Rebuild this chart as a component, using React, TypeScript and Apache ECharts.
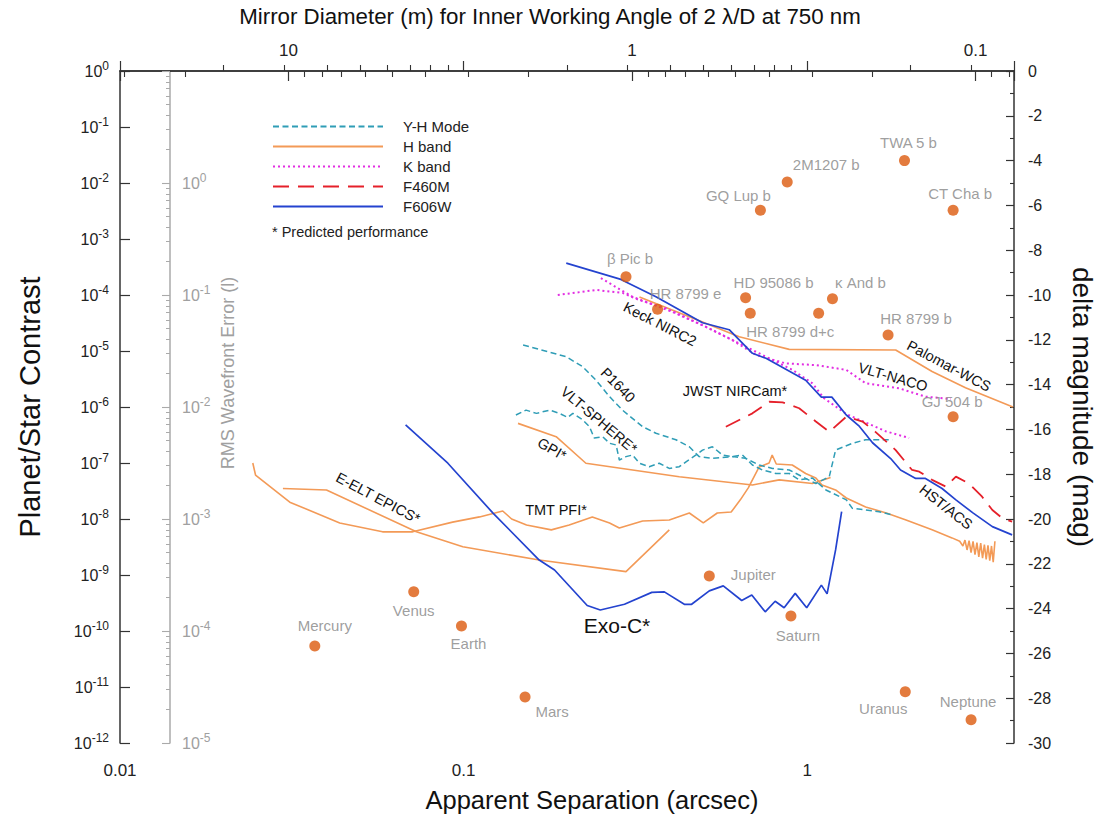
import React, { useEffect, useRef } from 'react';
import * as echarts from 'echarts';

// ---------- Data (arcsec, planet/star contrast) ----------
const HST_ACS = [[0.199,3.7e-4],[0.287,1.9e-4],[0.363,9.3e-5],[0.496,3.2e-5],[0.593,2.4e-5],[0.693,9.1e-6],[0.759,7.4e-6],[0.99,3.0e-6],[1.10,1.5e-6],[1.18,1.5e-6],[1.30,7.2e-7],[1.42,4.5e-7],[1.55,2.3e-7],[1.75,1.2e-7],[1.87,7.5e-8],[2.07,5.3e-8],[2.21,5.3e-8],[2.47,3.5e-8],[2.71,2.2e-8],[3.03,1.3e-8],[3.46,7.3e-9],[3.95,5.2e-9]];
const EXO_C = [[0.0678,4.8e-7],[0.090,9.9e-8],[0.122,1.26e-8],[0.166,1.85e-9],[0.184,1.23e-9],[0.229,2.85e-10],[0.250,2.37e-10],[0.294,3.0e-10],[0.353,4.9e-10],[0.384,5.0e-10],[0.439,3.0e-10],[0.461,3.0e-10],[0.519,5.2e-10],[0.570,6.4e-10],[0.645,3.5e-10],[0.690,4.4e-10],[0.755,2.2e-10],[0.807,3.4e-10],[0.857,2.6e-10],[0.923,4.7e-10],[0.997,2.6e-10],[1.10,6.6e-10],[1.143,4.6e-10],[1.21,2.8e-9],[1.26,1.35e-8]];
const KECK_PALOMAR = [[0.325,9.2e-5],[0.496,3.3e-5],[0.634,1.8e-5],[0.887,1.07e-5],[1.81,1.04e-5],[2.31,4.3e-6],[2.89,2.2e-6],[3.97,1.0e-6]];
const VLT_NACO = [[0.188,1.0e-4],[0.243,1.23e-4],[0.290,1.09e-4],[0.325,8.1e-5],[0.388,5.8e-5],[0.495,2.9e-5],[0.605,1.57e-5],[0.710,8.5e-6],[0.867,6.0e-6],[1.06,5.6e-6],[1.30,4.6e-6],[1.48,2.65e-6],[1.85,2.16e-6],[2.21,1.53e-6],[2.62,1.39e-6]];
const KECK_K = [[0.251,2.0e-4],[0.310,9.3e-5],[0.405,5.0e-5],[0.508,2.7e-5],[0.634,1.37e-5],[0.759,7.9e-6],[0.906,4.6e-6],[1.036,2.65e-6],[1.12,1.43e-6],[1.30,7.5e-7],[1.48,5.3e-7],[1.69,3.7e-7],[1.98,2.8e-7]];
const JWST = [[0.580,4.45e-7],[0.693,7.7e-7],[0.775,1.24e-6],[0.848,1.21e-6],[0.948,9.5e-7],[1.06,5.5e-7],[1.16,3.6e-7],[1.30,6.7e-7],[1.45,5.5e-7],[1.58,3.6e-7],[1.81,1.7e-7],[2.02,7.5e-8],[2.12,7.0e-8],[2.31,5.0e-8],[2.53,3.8e-8],[2.71,5.7e-8],[2.96,4.3e-8],[3.23,2.5e-8],[3.46,1.45e-8],[3.70,1.03e-8],[3.95,9.0e-9]];
const P1640 = [[0.149,1.28e-5],[0.199,7.9e-6],[0.222,5.25e-6],[0.243,3.0e-6],[0.266,1.53e-6],[0.290,8.8e-7],[0.332,4.45e-7],[0.363,3.4e-7],[0.415,2.6e-7],[0.454,1.95e-7],[0.485,1.3e-7],[0.530,1.21e-7],[0.607,1.3e-7],[0.662,1.21e-7],[0.725,9.2e-8],[0.793,8.0e-8],[0.887,7.5e-8],[0.99,5.3e-8],[1.06,4.3e-8],[1.16,5.7e-8],[1.21,1.7e-7],[1.354,2.25e-7],[1.48,2.6e-7],[1.77,2.6e-7]];
const SPHERE = [[0.142,7.2e-7],[0.152,8.8e-7],[0.163,7.7e-7],[0.178,8.8e-7],[0.190,7.7e-7],[0.201,6.5e-7],[0.208,7.7e-7],[0.222,5.9e-7],[0.2325,4.45e-7],[0.240,2.8e-7],[0.254,2.95e-7],[0.266,2.25e-7],[0.278,2.1e-7],[0.284,1.13e-7],[0.297,1.3e-7],[0.3105,1.39e-7],[0.325,9.9e-8],[0.347,8.6e-8],[0.371,9.9e-8],[0.397,8.0e-8],[0.4245,8.6e-8],[0.444,1.05e-7],[0.475,1.39e-7],[0.496,1.7e-7],[0.530,1.95e-7],[0.567,1.39e-7],[0.607,1.3e-7],[0.648,1.39e-7],[0.693,9.2e-8],[0.741,7.5e-8],[0.811,6.5e-8],[0.887,6.5e-8],[0.948,5.0e-8],[1.036,5.4e-8],[1.134,3.3e-8],[1.30,2.2e-8],[1.354,1.55e-8],[1.62,1.35e-8],[1.77,1.18e-8]];
const GPI = [[0.144,5.1e-7],[0.186,2.95e-7],[0.227,9.9e-8],[0.4245,5.7e-8],[0.693,4.05e-8],[0.829,5.0e-8],[1.036,4.3e-8],[1.17,5.5e-8]];
const TMT = [[0.02435,1.0e-7],[0.0248,6.1e-8],[0.0312,2.0e-8],[0.0436,8.5e-9],[0.0581,5.9e-9],[0.0711,5.9e-9],[0.0929,8.8e-9],[0.1113,1.09e-8],[0.130,1.39e-8],[0.138,1.0e-8],[0.1525,7.8e-9],[0.180,6.4e-9],[0.203,7.8e-9],[0.237,1.09e-8],[0.266,8.5e-9],[0.284,6.9e-9],[0.332,9.2e-9],[0.397,9.6e-9],[0.454,1.28e-8],[0.4985,8.5e-9],[0.5475,1.28e-8],[0.601,1.33e-8],[0.639,2.2e-8],[0.674,3.6e-8],[0.725,8.5e-8],[0.775,1.0e-7],[0.791,1.39e-7],[0.813,9.6e-8],[0.905,9.2e-8],[0.99,6.5e-8],[1.06,5.4e-8],[1.105,4.05e-8],[1.21,3.3e-8],[1.30,2.37e-8],[1.48,1.64e-8],[1.70,1.28e-8],[1.94,9.6e-9],[2.31,6.4e-9],[2.64,4.6e-9],[2.78,4.0e-9],[2.84,3.3e-9],[2.88,4.2e-9],[2.92,2.8e-9],[2.96,4.1e-9],[3.0,2.5e-9],[3.04,4.0e-9],[3.08,2.3e-9],[3.12,3.8e-9],[3.16,2.1e-9],[3.20,3.7e-9],[3.24,2.0e-9],[3.28,3.5e-9],[3.32,1.9e-9],[3.36,3.4e-9],[3.40,1.8e-9],[3.44,3.3e-9],[3.48,1.7e-9],[3.52,4.0e-9]];
const E_ELT = [[0.0298,3.5e-8],[0.0399,3.3e-8],[0.0729,5.9e-9],[0.0995,3.2e-9],[0.166,1.85e-9],[0.297,1.15e-9],[0.397,6.4e-9]];

const PLANET_NAMES = ['Mercury','Venus','Earth','Mars','Jupiter','Saturn','Uranus','Neptune','TWA 5 b','2M1207 b','GQ Lup b','CT Cha b','β Pic b','HR 8799 e','HD 95086 b','κ And b','HR 8799 d','HR 8799 c','HR 8799 b','GJ 504 b'];
const PLANET_SEP = [0.0369,0.0716,0.0986,0.151,0.519,0.897,1.93,3.0,1.92,0.875,0.731,2.66,0.297,0.367,0.662,1.185,0.683,1.08,1.72,2.66];
const PLANET_CONTRAST = [5.4e-11,5.0e-10,1.23e-10,6.6e-12,9.6e-10,1.85e-10,8.2e-12,2.6e-12,0.0251,0.0104,3.25e-3,3.25e-3,2.12e-4,5.55e-5,8.95e-5,8.6e-5,4.71e-5,4.71e-5,1.93e-5,6.7e-7];

const LEGEND_NAMES = ['Y-H Mode','H band','K band','F460M','F606W'];

// axis constants
const SEP_MIN = 0.01;
const SEP_MAX = 4;
const C_MIN = 1e-12;
const C_MAX = 1;
const MAG_MIN = -30;
const MAG_MAX = 0;
const WFE_MIN = 1e-5;
const WFE_MAX = 10;
const LAMBDA_M = 750e-9;
const ARCSEC_RAD = Math.PI / (180 * 3600);
const diam = (sep: number) => (2 * LAMBDA_M) / (sep * ARCSEC_RAD);

// ---------- styles (kept separate) ----------
const COLORS: Record<string, string> = {
  'Y-H Mode': '#2f9db6',
  'H band': '#f39a57',
  'K band': '#e22ee2',
  'F460M': '#e5202a',
  'F606W': '#2443cf',
};
const LINE_TYPES: Record<string, any> = {
  'Y-H Mode': { type: [6, 3.5], width: 1.5 },
  'H band': { type: 'solid', width: 1.6 },
  'K band': { type: [2, 3], width: 2 },
  'F460M': { type: [16, 9], width: 1.8 },
  'F606W': { type: 'solid', width: 1.7 },
};

const LABEL_POS: Record<string, [string, number, number]> = {
  'Mercury': ['top', 10, -2],
  'Venus': ['bottom', 0, 1],
  'Earth': ['bottom', 7, 0],
  'Mars': ['bottom', 27, -4],
  'Jupiter': ['right', 11, -1],
  'Saturn': ['bottom', 7, 1],
  'Uranus': ['bottom', -22, -1],
  'Neptune': ['top', -3, 0],
  'TWA 5 b': ['top', 4, 0],
  '2M1207 b': ['top', 39, 0],
  'GQ Lup b': ['top', -22, 3],
  'CT Cha b': ['top', 7, 1],
  'β Pic b': ['top', 4, 0],
  'HR 8799 e': ['top', 28, 2],
  'HD 95086 b': ['top', 28, 3],
  'κ And b': ['top', 28, 2],
  'HR 8799 d': ['bottom', 40, 0],
  'HR 8799 c': ['bottom', 0, 0],
  'HR 8799 b': ['top', 28, 1],
  'GJ 504 b': ['top', -1, 3],
};
const LABEL_TEXT: Record<string, string> = { 'HR 8799 d': 'HR 8799 d+c', 'HR 8799 c': '' };

const ANNOTATIONS: [string, number, number, number, number][] = [
  ['Keck NIRC2', 660, 324, 27, 14.5],
  ['Palomar-WCS', 949, 366, 28, 14.5],
  ['VLT-NACO', 893, 377, 16, 14.5],
  ['P1640', 618, 385, 45, 14.5],
  ['VLT-SPHERE*', 599, 420, 40, 14.5],
  ['GPI*', 552, 449, 30, 14.5],
  ['JWST NIRCam*', 735, 391, 0, 14.5],
  ['TMT PFI*', 556, 510, 0, 14.5],
  ['E-ELT EPICS*', 378, 498, 28, 14.5],
  ['HST/ACS', 946, 507, 38, 14.5],
  ['Exo-C*', 617, 625, 0, 21],
];

const FONT = 'Liberation Sans';

const isPow10 = (v: number) => {
  const e = Math.log10(v);
  return Math.abs(e - Math.round(e)) < 1e-6;
};
const supFmt = (v: number) => (isPow10(v) ? `{b|10}{s|${Math.round(Math.log10(v))}}` : '');
const decFmt = (v: number) => {
  if (!isPow10(v)) return '';
  const e = Math.round(Math.log10(v));
  return e >= 0 ? String(Math.round(v)) : v.toFixed(-e);
};

function lineSeries(name: string, data: number[][]) {
  return {
    type: 'line',
    name,
    data,
    xAxisIndex: 0,
    yAxisIndex: 0,
    symbol: 'none',
    smooth: false,
    lineStyle: { color: COLORS[name], ...LINE_TYPES[name] },
    itemStyle: { color: COLORS[name] },
    z: 3,
  };
}

export default function App() {
  const ref = useRef<HTMLDivElement>(null);
  useEffect(() => {
    if (!ref.current) return;
    const chart = echarts.init(ref.current, null, { renderer: 'svg' });

    const planetData = PLANET_NAMES.map((n, i) => {
      const p = LABEL_POS[n];
      const txt = LABEL_TEXT[n] !== undefined ? LABEL_TEXT[n] : n;
      return {
        name: n,
        value: [PLANET_SEP[i], PLANET_CONTRAST[i]],
        label: { show: txt !== '', formatter: txt, position: p[0], offset: [p[1], p[2]] },
      };
    });

    const option: any = {
      animation: false,
      backgroundColor: '#ffffff',
      textStyle: { fontFamily: FONT },
      grid: { left: 120, right: 88, top: 71, bottom: 76, containLabel: false, outerBoundsMode: 'none' },
      legend: {
        data: LEGEND_NAMES,
        orient: 'vertical',
        left: 272,
        top: 119,
        itemWidth: 110,
        itemHeight: 14,
        itemGap: 5,
        padding: 0,
        selectedMode: false,
        itemStyle: { opacity: 0 },
        textStyle: { fontSize: 15, color: '#222', fontFamily: FONT, padding: [0, 0, 0, 15] },
      },
      xAxis: [
        {
          type: 'log',
          logBase: 10,
          min: SEP_MIN,
          max: SEP_MAX,
          interval: 1,
          position: 'bottom',
          name: 'Apparent Separation (arcsec)',
          nameLocation: 'middle',
          nameGap: 44,
          nameTextStyle: { fontSize: 25.5, color: '#111', fontFamily: FONT, padding: [0, 0, 0, 50] },
          axisLine: { lineStyle: { color: '#333', width: 1.5 } },
          axisTick: { inside: true, length: 10, lineStyle: { color: '#333', width: 1.2 } },
          minorTick: { show: true, splitNumber: 9, length: 6, lineStyle: { color: '#333', width: 1.1 } },
          axisLabel: { formatter: decFmt, fontSize: 17, color: '#222', margin: 19, fontFamily: FONT, showMaxLabel: false },
          splitLine: { show: false },
          minorSplitLine: { show: false },
        },
        {
          type: 'log',
          logBase: 10,
          inverse: true,
          min: diam(SEP_MAX),
          max: diam(SEP_MIN),
          position: 'top',
          name: 'Mirror Diameter (m) for Inner Working Angle of 2 λ/D at 750 nm',
          nameLocation: 'middle',
          nameGap: 44,
          nameTextStyle: { fontSize: 22.3, color: '#111', fontFamily: FONT, padding: [0, 34, 0, 0] },
          axisLine: { lineStyle: { color: '#333', width: 1.5 } },
          axisTick: { inside: true, length: 10, lineStyle: { color: '#333', width: 1.2 } },
          minorTick: { show: true, splitNumber: 9, length: 6, lineStyle: { color: '#333', width: 1.1 } },
          axisLabel: { formatter: decFmt, fontSize: 17, color: '#222', margin: 12, fontFamily: FONT, showMinLabel: false, showMaxLabel: false },
          splitLine: { show: false },
        },
      ],
      yAxis: [
        {
          type: 'log',
          logBase: 10,
          min: C_MIN,
          max: C_MAX,
          interval: 1,
          position: 'left',
          name: 'Planet/Star Contrast',
          nameLocation: 'middle',
          nameGap: 76,
          nameRotate: 90,
          nameTextStyle: { fontSize: 29, color: '#111', fontFamily: FONT },
          axisLine: { lineStyle: { color: '#333', width: 1.5 } },
          axisTick: { inside: true, length: 10, lineStyle: { color: '#333', width: 1.2 } },
          axisLabel: {
            formatter: supFmt,
            margin: 11,
            rich: {
              b: { fontSize: 16, color: '#222', fontFamily: FONT },
              s: { fontSize: 12, color: '#222', fontFamily: FONT, padding: [0, 0, 10, 0] },
            },
          },
          splitLine: { show: false },
        },
        {
          type: 'value',
          min: MAG_MIN,
          max: MAG_MAX,
          interval: 2,
          position: 'right',
          name: 'delta magnitude (mag)',
          nameLocation: 'middle',
          nameGap: 54,
          nameRotate: -90,
          nameTextStyle: { fontSize: 28, color: '#111', fontFamily: FONT },
          axisLine: { lineStyle: { color: '#333', width: 1.5 } },
          axisTick: { inside: true, length: 8, lineStyle: { color: '#333', width: 1.2 } },
          minorTick: { show: true, splitNumber: 2, length: 4, lineStyle: { color: '#333', width: 1.1 } },
          axisLabel: { fontSize: 16, color: '#222', margin: 14, fontFamily: FONT },
          splitLine: { show: false },
          minorSplitLine: { show: false },
        },
        {
          type: 'log',
          logBase: 10,
          min: WFE_MIN,
          max: WFE_MAX,
          interval: 1,
          position: 'left',
          offset: -50,
          axisLine: { lineStyle: { color: '#aaaaaa', width: 1.5 } },
          axisTick: { inside: false, length: 8, lineStyle: { color: '#aaaaaa', width: 1.1 } },
          minorTick: { show: true, splitNumber: 9, length: 4, lineStyle: { color: '#aaaaaa', width: 1 } },
          axisLabel: {
            inside: true,
            formatter: supFmt,
            margin: 12,
            showMaxLabel: false,
            rich: {
              b: { fontSize: 16, color: '#a0a0a0', fontFamily: FONT },
              s: { fontSize: 12, color: '#a0a0a0', fontFamily: FONT, padding: [0, 0, 10, 0] },
            },
          },
          splitLine: { show: false },
        },
      ],
      series: [
        lineSeries('H band', KECK_PALOMAR),
        lineSeries('H band', GPI),
        lineSeries('H band', TMT),
        lineSeries('H band', E_ELT),
        lineSeries('Y-H Mode', P1640),
        lineSeries('Y-H Mode', SPHERE),
        lineSeries('K band', VLT_NACO),
        lineSeries('K band', KECK_K),
        lineSeries('F460M', JWST),
        lineSeries('F606W', HST_ACS),
        lineSeries('F606W', EXO_C),
        {
          type: 'scatter',
          name: 'planets',
          xAxisIndex: 0,
          yAxisIndex: 0,
          symbolSize: 11,
          itemStyle: { color: '#dc5a0e' },
          label: { show: true, color: '#858585', fontSize: 15, fontFamily: FONT, distance: 5 },
          data: planetData,
          z: 5,
        },
      ],
      graphic: [
        {
          type: 'text',
          left: 272,
          top: 224,
          style: { text: '* Predicted performance', fontSize: 14.5, fill: '#222', fontFamily: FONT },
        },
        {
          type: 'text',
          x: 228,
          y: 373,
          rotation: Math.PI / 2,
          style: { text: 'RMS Wavefront Error (l)', fontSize: 18, fill: '#a0a0a0', fontFamily: FONT, align: 'center', verticalAlign: 'middle' },
        },
        ...ANNOTATIONS.map(([t, x, y, rot, fs]) => ({
          type: 'text',
          x,
          y,
          rotation: (-rot * Math.PI) / 180,
          style: { text: t, fontSize: fs, fill: '#111', fontFamily: FONT, align: 'center', verticalAlign: 'middle' },
          z: 10,
        })),
      ],
    };
    chart.setOption(option);
    return () => chart.dispose();
  }, []);
  return (
    <div
      ref={ref}
      style={{ position: 'fixed', left: 0, top: 0, width: 1102, height: 819, background: '#fff' }}
    />
  );
}
